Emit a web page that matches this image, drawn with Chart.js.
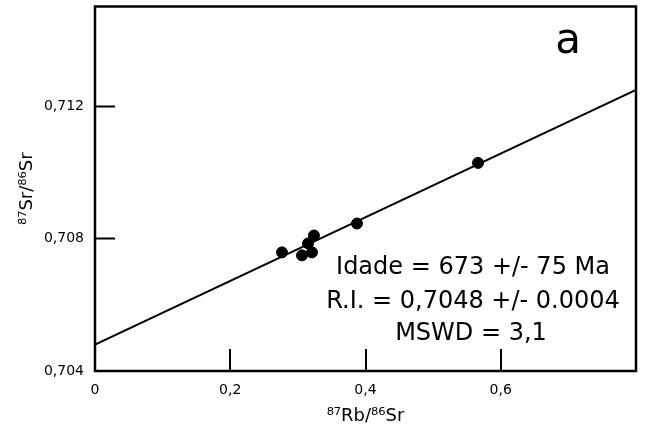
<!DOCTYPE html>
<html>
<head>
<meta charset="utf-8">
<script src="https://cdn.jsdelivr.net/npm/chart.js@4"></script>
<style>
  html, body { margin: 0; padding: 0; background: #fff; }
  #wrap { width: 648px; height: 427px; }
</style>
</head>
<body>
<div id="wrap"><canvas id="graph" width="648" height="427"></canvas></div>
<script>
// samples
const rbSr = [0.2765, 0.3061, 0.3209, 0.3150, 0.3238, 0.3874, 0.5664];
const srSr = [0.70758, 0.70749, 0.70758, 0.70785, 0.70809, 0.70845, 0.71028];

// isochron line (ends at the frame)
const lineX = [0, 0.8];
const lineY = [0.7048, 0.71248];

const xTicks = [0, 0.2, 0.4, 0.6];
const yTicks = [0.704, 0.708, 0.712];

const notes = ["Idade = 673 +/- 75 Ma", "R.I. = 0,7048 +/- 0.0004", "MSWD = 3,1"];
const panelLabel = "a";

const fontName = "'DejaVu Sans', sans-serif";

function comma(v, n) {
    if (v === 0) return "0";
    return v.toFixed(n).replace(".", ",");
}

// frame, inward ticks and the text inside the plot
const framePlugin = {
    id: "frame",
    afterDraw(chart) {
        const c = chart.ctx;
        const a = chart.chartArea;
        const x = chart.scales.x;
        const y = chart.scales.y;
        c.save();
        c.strokeStyle = "#000";
        c.lineWidth = 2.5;
        c.strokeRect(a.left, a.top, a.right - a.left, a.bottom - a.top);
        c.lineWidth = 2;
        c.beginPath();
        yTicks.forEach(function (v) {
            if (v === y.min) return;
            let py = Math.round(y.getPixelForValue(v)) + 0.5;
            c.moveTo(a.left, py);
            c.lineTo(a.left + 20, py);
        });
        xTicks.forEach(function (v) {
            if (v === x.min) return;
            let px = Math.round(x.getPixelForValue(v));
            c.moveTo(px, a.bottom);
            c.lineTo(px, a.bottom - 22);
        });
        c.stroke();

        c.fillStyle = "#000";
        c.textAlign = "center";
        c.textBaseline = "middle";
        c.font = "24px " + fontName;
        c.fillText(notes[0], a.left + 378, a.top + 261);
        c.fillText(notes[1], a.left + 378, a.top + 295);
        c.fillText(notes[2], a.left + 376, a.top + 327);
        c.textBaseline = "alphabetic";
        c.font = "42px " + fontName;
        c.fillText(panelLabel, a.left + 473, a.top + 46);
        c.restore();
    }
};

const ctx = document.getElementById("graph").getContext("2d");

const dataChart = new Chart(ctx, {
    type: "scatter",
    data: {
        datasets: [
            {
                label: "isocrona",
                type: "line",
                data: lineX.map((v, i) => ({ x: v, y: lineY[i] })),
                borderColor: "#000",
                borderWidth: 2,
                pointRadius: 0,
                fill: false
            },
            {
                label: "amostras",
                data: rbSr.map((v, i) => ({ x: v, y: srSr[i] })),
                backgroundColor: "#000",
                borderColor: "#000",
                pointRadius: 5.5
            }
        ]
    },
    options: {
        responsive: false,
        animation: false,
        layout: { padding: { left: 0, right: 12, top: 5, bottom: 0 } },
        plugins: {
            legend: { display: false },
            tooltip: { enabled: false }
        },
        scales: {
            x: {
                type: "linear",
                min: 0,
                max: 0.8,
                afterBuildTicks: function (scale) {
                    scale.ticks = xTicks.map(v => ({ value: v }));
                },
                afterFit: function (scale) {
                    scale.height = 56;
                    scale.paddingLeft = 0;
                    scale.paddingRight = 0;
                },
                grid: { display: false, drawTicks: false },
                border: { display: false },
                ticks: {
                    color: "#000",
                    padding: 11,
                    font: { family: fontName, size: 14 },
                    callback: v => comma(v, 1)
                },
                title: {
                    display: true,
                    text: "⁸⁷Rb/⁸⁶Sr",
                    color: "#000",
                    font: { family: fontName, size: 18 },
                    padding: { top: 6, bottom: 0 }
                }
            },
            y: {
                type: "linear",
                min: 0.704,
                max: 0.715,
                afterBuildTicks: function (scale) {
                    scale.ticks = yTicks.map(v => ({ value: v }));
                },
                afterFit: function (scale) {
                    scale.width = 95;
                    scale.paddingTop = 0;
                    scale.paddingBottom = 0;
                },
                grid: { display: false, drawTicks: false },
                border: { display: false },
                ticks: {
                    color: "#000",
                    padding: 11,
                    font: { family: fontName, size: 14 },
                    callback: v => comma(v, 3)
                },
                title: {
                    display: true,
                    text: "⁸⁷Sr/⁸⁶Sr",
                    color: "#000",
                    font: { family: fontName, size: 18 },
                    padding: { top: 17, bottom: 0 }
                }
            }
        }
    },
    plugins: [framePlugin]
});
</script>
</body>
</html>
